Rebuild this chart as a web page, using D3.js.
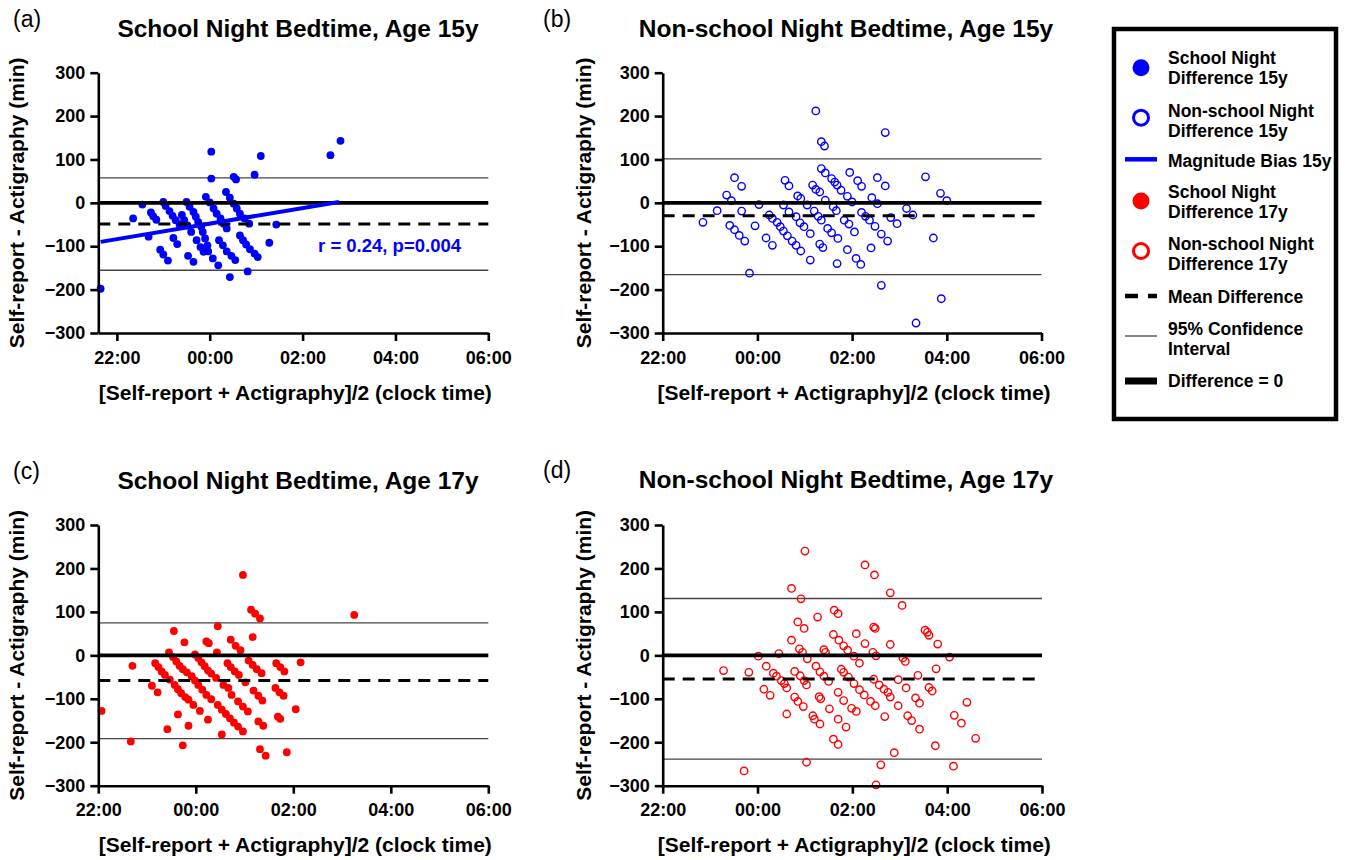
<!DOCTYPE html>
<html><head><meta charset="utf-8">
<script src="https://cdn.jsdelivr.net/npm/d3@7"></script>
<style>
body{margin:0;background:#fff}
svg{display:block}
text{font-family:"Liberation Sans",Arial,Helvetica,sans-serif}
</style></head>
<body><svg id="chart" width="1347" height="860"></svg>
<script>
// ---------------- DATA ----------------
const panelLetters = ["(a)", "(b)", "(c)", "(d)"];
const panelTitles = ["School Night Bedtime, Age 15y", "Non-school Night Bedtime, Age 15y",
                     "School Night Bedtime, Age 17y", "Non-school Night Bedtime, Age 17y"];
const xAxisTitle = "[Self-report + Actigraphy]/2 (clock time)";
const yAxisTitle = "Self-report - Actigraphy (min)";
const xTickValues = ["22:00", "00:00", "02:00", "04:00", "06:00"];
const yTickValues = [-300, -200, -100, 0, 100, 200, 300];

// [mean clock time, difference (min)]
const schoolNight15 = [
["21:39",-198],["22:21",-36],["22:33",-4],["22:41",-78],["22:44",-22],["22:47",-31],["22:51",-39],
["23:00",2],["23:03",-7],["23:08",-19],["23:12",-30],["23:16",-40],["23:21",-50],["23:13",-81],["23:18",-95],
["22:56",-108],["23:00",-119],["23:06",-133],["23:32",-122],["23:39",-136],["23:30",2],["23:34",-9],
["23:39",-21],["23:42",-32],["23:45",-44],["23:49",-55],["23:51",-67],["23:54",-82],["23:57",-98],["23:58",-112],
["23:55",14],["00:00",1],["00:05",-13],["00:09",-25],["00:14",-36],["00:18",-48],["00:22",-59],["00:12",-86],
["00:17",-98],["00:22",-112],["00:28",-122],["00:33",-132],["00:04",-128],["00:11",-144],["00:26",-171],
["00:21",25],["00:26",12],["00:31",-2],["00:35",-13],["00:39",-25],["00:45",-36],["00:51",-48],["00:39",-75],
["00:43",-86],["00:47",-96],["00:52",-107],["00:58",-117],["01:02",-125],["00:49",-158],["01:17",-92],["01:26",-50],
["00:02",118],["00:02",56],["00:31",60],["00:34",54],["00:58",65],["01:06",108],["02:36",110],["02:49",143],
["23:24",-28],["23:27",-40],["23:31",-52],["23:36",-67],["23:43",-86],["23:48",-102],["23:52",-113]
];
const nonSchoolNight15 = [
["22:51",-45],["23:09",-18],["23:21",18],["23:27",5],["23:31",58],["23:40",38],["23:40",-19],["23:25",-52],
["23:31",-62],["23:37",-75],["23:44",-88],["23:50",-162],["23:57",-53],["00:02",-4],["00:11",-81],["00:19",-98],
["00:15",-28],["00:19",-36],["00:25",-45],["00:29",-55],["00:33",-65],["00:38",-76],["00:44",-88],["00:49",-98],
["00:55",-111],["00:35",52],["00:40",39],["00:33",-5],["00:40",-21],["00:51",16],["00:55",10],["00:49",-32],
["00:54",-46],["00:59",-55],["01:03",-5],["01:07",-71],["01:07",-132],["01:10",41],["01:14",31],["01:14",212],
["01:19",25],["01:12",-19],["01:17",-31],["01:21",-40],["01:26",6],["01:29",-59],["01:34",-69],["01:42",-82],
["01:19",-95],["01:23",-103],["01:21",141],["01:25",131],["01:21",79],["01:26",69],["01:34",56],["01:38",48],
["01:41",41],["01:46",29],["01:54",15],["02:00",2],["01:36",-9],["01:40",-18],["01:50",-40],["01:56",-49],
["02:03",-67],["01:41",-140],["01:54",-108],["02:05",-128],["02:11",-142],["01:57",70],["02:07",51],["02:12",38],
["02:12",-22],["02:17",-31],["02:22",-40],["02:29",-54],["02:37",-72],["02:45",-88],["02:24",-104],["02:25",12],
["02:32",-2],["02:32",58],["02:42",39],["02:42",162],["02:37",-190],["02:49",-34],["02:57",-48],["03:09",-13],
["03:17",-28],["03:21",-277],["03:33",60],["03:43",-81],["03:52",22],["04:00",5],["03:53",-221]
];
const schoolNight17 = [
["22:04",-128],["22:40",-198],["22:42",-24],["23:06",-70],["23:13",-85],["23:25",-170],["23:38",-136],["23:44",-207],
["23:51",-162],["23:33",56],["23:46",30],["00:58",185],["01:08",105],["01:13",96],["01:19",85],["01:10",42],
["00:27",67],["00:13",32],["00:16",28],["00:43",36],["00:49",22],["00:55",12],["00:26",7],["03:15",93],
["02:09",-16],["02:03",-124],["00:32",-182],["01:19",-216],["01:26",-231],["01:52",-223],["01:41",-141],["01:44",-146],
["23:10",-18],["23:14",-27],["23:18",-37],["23:22",-45],["23:28",-56],["23:27",7],["23:32",-4],["23:36",-14],
["23:40",-24],["23:44",-32],["23:49",-39],["23:34",-68],["23:38",-78],["23:42",-87],["23:47",-96],["23:51",-102],
["23:57",-114],["00:05",-128],["00:15",-148],["23:59",2],["00:03",-6],["00:07",-16],["00:11",-25],["00:15",-35],
["00:19",-42],["00:25",-52],["23:55",-48],["23:59",-58],["00:03",-68],["00:08",-79],["00:13",-91],["00:19",-101],
["00:27",-114],["00:34",-68],["00:40",-75],["00:44",-91],["00:52",-106],["00:58",-118],["01:04",-129],["00:32",-125],
["00:37",-135],["00:42",-145],["00:47",-155],["00:52",-164],["00:58",-175],["00:39",-18],["00:43",-27],["00:48",-37],
["00:53",-45],["01:01",-62],["01:05",-12],["01:10",-22],["01:15",-32],["01:21",-41],["01:11",-81],["01:17",-93],
["01:22",-104],["01:17",-152],["01:23",-162],["01:39",-18],["01:44",-27],["01:49",-37],["01:38",-75],["01:43",-85],
["01:48",-93]
];
const nonSchoolNight17 = [
["23:17",-35],["23:49",-39],["23:43",-266],["00:01",-2],["00:11",-25],["00:20",-41],["00:24",-48],["00:30",-58],
["00:34",-65],["00:37",-75],["00:08",-78],["00:16",-92],["00:27",4],["00:37",-135],["00:43",154],["00:55",130],
["00:51",77],["00:59",62],["01:00",240],["00:43",35],["00:53",15],["00:57",7],["01:03",-8],["00:47",-37],
["00:54",-47],["00:59",-58],["01:02",-68],["00:47",-96],["00:51",-106],["00:58",-118],["01:02",-246],["01:16",88],
["01:14",-25],["01:19",-38],["01:24",13],["01:26",7],["01:24",-48],["01:30",-60],["01:18",-95],["01:20",-100],
["01:10",-139],["01:12",-147],["01:19",-158],["01:31",-123],["01:36",-193],["01:42",-205],["01:37",104],["01:42",96],
["01:36",48],["01:43",35],["01:49",22],["01:54",12],["02:02",-2],["02:09",-18],["01:46",-32],["01:49",-39],
["01:55",-50],["02:02",-65],["02:09",-79],["02:15",-91],["02:23",-106],["02:29",-116],["01:42",-85],["01:49",-104],
["01:52",-165],["01:42",-147],["01:59",-122],["02:05",-129],["02:05",50],["02:16",27],["02:16",208],["02:28",185],
["02:27",65],["02:29",62],["02:26",7],["02:30",-1],["02:27",-55],["02:34",-68],["02:40",-78],["02:45",-85],
["02:48",-96],["02:41",-141],["02:30",-298],["02:36",-252],["02:53",-224],["02:48",144],["03:03",115],["02:48",25],
["03:04",-6],["03:07",-14],["02:58",-56],["03:08",-75],["02:58",-116],["03:10",-139],["03:15",-150],["03:25",-170],
["03:20",-98],["03:25",-110],["03:23",-46],["03:32",58],["03:35",53],["03:37",46],["03:48",26],["03:46",-31],
["03:37",-74],["03:41",-82],["03:45",-208],["04:03",-4],["04:09",-138],["04:18",-156],["04:25",-108],["04:08",-255],
["04:36",-191]
];

const meanDifference = [-48.5, -30, -57.7, -54.6];
const ciUpper = [57.7, 101.5, 74.6, 130.8];
const ciLower = [-155.4, -165.4, -191.5, -239];
const magnitudeBias15 = [["21:39", -90], ["02:47", 2]];
const biasLabel = "r = 0.24, p=0.004";
const biasLabelPos = ["02:20", -114];

const legendItems = [
  {type:"filled", color:"#0000ff", lines:["School Night","Difference 15y"]},
  {type:"open", color:"#0000ff", lines:["Non-school Night","Difference 15y"]},
  {type:"bias", color:"#0000ff", lines:["Magnitude Bias 15y"]},
  {type:"filled", color:"#ff0000", lines:["School Night","Difference 17y"]},
  {type:"open", color:"#ff0000", lines:["Non-school Night","Difference 17y"]},
  {type:"mean", color:"#000", lines:["Mean Difference"]},
  {type:"ci", color:"#000", lines:["95% Confidence","Interval"]},
  {type:"zero", color:"#000", lines:["Difference = 0"]}
];

// ---------------- HELPERS ----------------
function toHours(s){ const p = s.split(":").map(Number); let v = p[0] + p[1]/60; if (v < 12) v += 24; return v; }
const tickHours = xTickValues.map(toHours);

const svg = d3.select("#chart");
const FONT = '"Liberation Sans",Arial,Helvetica,sans-serif';

const panels = [
  {data:schoolNight15, filled:true, color:"#0000ff", xd:[21.6,30], xr:[98.3,488.3], yr:[333,72.7],
   letter:[13,27], title:[298,37], ytitle:24, xtitleY:400},
  {data:nonSchoolNight15, filled:false, color:"#0000ff", xd:[22,30], xr:[662.7,1041.5], yr:[333,72.7],
   letter:[543,27], title:[846,37], ytitle:591, xtitleY:400},
  {data:schoolNight17, filled:true, color:"#ff0000", xd:[22,30], xr:[98.3,488.3], yr:[785.7,525],
   letter:[13,479], title:[298,489], ytitle:24, xtitleY:852},
  {data:nonSchoolNight17, filled:false, color:"#ff0000", xd:[22,30], xr:[662.7,1042], yr:[785.7,525],
   letter:[543,478], title:[846,488], ytitle:591, xtitleY:852}
];

panels.forEach((p, i) => {
  const x = d3.scaleLinear().domain(p.xd).range(p.xr);
  const y = d3.scaleLinear().domain([-300, 300]).range(p.yr);
  const g = svg.append("g");

  // reference lines
  const x0 = p.xr[0], x1 = p.xr[1];
  const hline = (v, w, dash, col) => g.append("line")
      .attr("x1", x0).attr("x2", x1).attr("y1", y(v)).attr("y2", y(v))
      .attr("stroke", col).attr("stroke-width", w).attr("stroke-dasharray", dash || null);
  hline(ciUpper[i], 1.3, null, "#444");
  hline(ciLower[i], 1.3, null, "#444");

  // points
  const pts = g.append("g");
  pts.selectAll("circle").data(p.data).join("circle")
    .attr("cx", d => x(toHours(d[0])))
    .attr("cy", d => y(d[1]))
    .attr("r", p.filled ? 3.9 : 3.7)
    .attr("fill", p.filled ? p.color : "none")
    .attr("stroke", p.filled ? "none" : p.color)
    .attr("stroke-width", 1.4);

  hline(0, 3.6, null, "#000");
  hline(meanDifference[i], 3, "12,8", "#000");

  if (i === 0) {
    g.append("line")
      .attr("x1", x(toHours(magnitudeBias15[0][0]))).attr("y1", y(magnitudeBias15[0][1]))
      .attr("x2", x(toHours(magnitudeBias15[1][0]))).attr("y2", y(magnitudeBias15[1][1]))
      .attr("stroke", "#0000ff").attr("stroke-width", 4);
    g.append("text").attr("x", x(toHours(biasLabelPos[0]))).attr("y", y(biasLabelPos[1]))
      .attr("fill", "#0000ff").attr("font-weight", "bold").attr("font-size", 18.5)
      .text(biasLabel);
  }

  // axes
  const yAxis = d3.axisLeft(y).tickValues(yTickValues).tickSize(8).tickSizeOuter(0).tickPadding(5);
  const xAxis = d3.axisBottom(x).tickValues(tickHours).tickFormat((d, k) => xTickValues[k])
      .tickSize(8).tickSizeOuter(0).tickPadding(10);
  const ya = g.append("g").attr("transform", `translate(${x0},0)`).call(yAxis);
  const xa = g.append("g").attr("transform", `translate(0,${p.yr[0]})`).call(xAxis);
  [ya, xa].forEach(a => {
    a.select(".domain").attr("stroke-width", 2.6).attr("stroke", "#000");
    a.selectAll(".tick line").attr("stroke-width", 2.6).attr("stroke", "#000");
    a.selectAll(".tick text").attr("font-family", FONT).attr("font-weight", "bold")
      .attr("font-size", 18).attr("fill", "#000");
  });

  // titles
  svg.append("text").attr("x", p.letter[0]).attr("y", p.letter[1])
    .attr("font-size", 23).attr("fill", "#000").text(panelLetters[i]);
  svg.append("text").attr("x", p.title[0]).attr("y", p.title[1]).attr("text-anchor", "middle")
    .attr("font-size", 24.5).attr("font-weight", "bold").text(panelTitles[i]);
  svg.append("text").attr("x", (x0 + x1) / 2 + 2).attr("y", p.xtitleY).attr("text-anchor", "middle")
    .attr("font-size", 21).attr("font-weight", "bold").text(xAxisTitle);
  const cy = (p.yr[0] + p.yr[1]) / 2;
  svg.append("text").attr("transform", `translate(${p.ytitle},${cy}) rotate(-90)`)
    .attr("text-anchor", "middle").attr("font-size", 21).attr("font-weight", "bold").text(yAxisTitle);
});

// ---------------- LEGEND ----------------
const lg = svg.append("g");
lg.append("rect").attr("x", 1114).attr("y", 29).attr("width", 222).attr("height", 390)
  .attr("fill", "#fff").attr("stroke", "#000").attr("stroke-width", 4.5);
const rowSym = [67.7, 117.7, 159.3, 201, 251, 296, 336, 381];
const rowBase = [64, 117.3, 166.7, 198.3, 250, 303.3, 335, 386.7];
const sx = 1141, tx = 1168;
legendItems.forEach((it, k) => {
  const yy = rowSym[k];
  if (it.type === "filled") {
    lg.append("circle").attr("cx", sx).attr("cy", yy).attr("r", 8.5).attr("fill", it.color);
  } else if (it.type === "open") {
    lg.append("circle").attr("cx", sx).attr("cy", yy).attr("r", 7.5).attr("fill", "none")
      .attr("stroke", it.color).attr("stroke-width", 3);
  } else {
    const w = {bias:4.5, mean:4.5, ci:1.3, zero:7}[it.type];
    lg.append("line").attr("x1", 1125).attr("x2", 1157).attr("y1", yy).attr("y2", yy)
      .attr("stroke", it.type === "bias" ? "#0000ff" : (it.type === "ci" ? "#444" : "#000"))
      .attr("stroke-width", w)
      .attr("stroke-dasharray", it.type === "mean" ? "13,10" : null);
  }
  it.lines.forEach((ln, j) => {
    lg.append("text").attr("x", tx).attr("y", rowBase[k] + j * 20)
      .attr("font-size", 17.5).attr("font-weight", "bold").text(ln);
  });
});
</script></body></html>
